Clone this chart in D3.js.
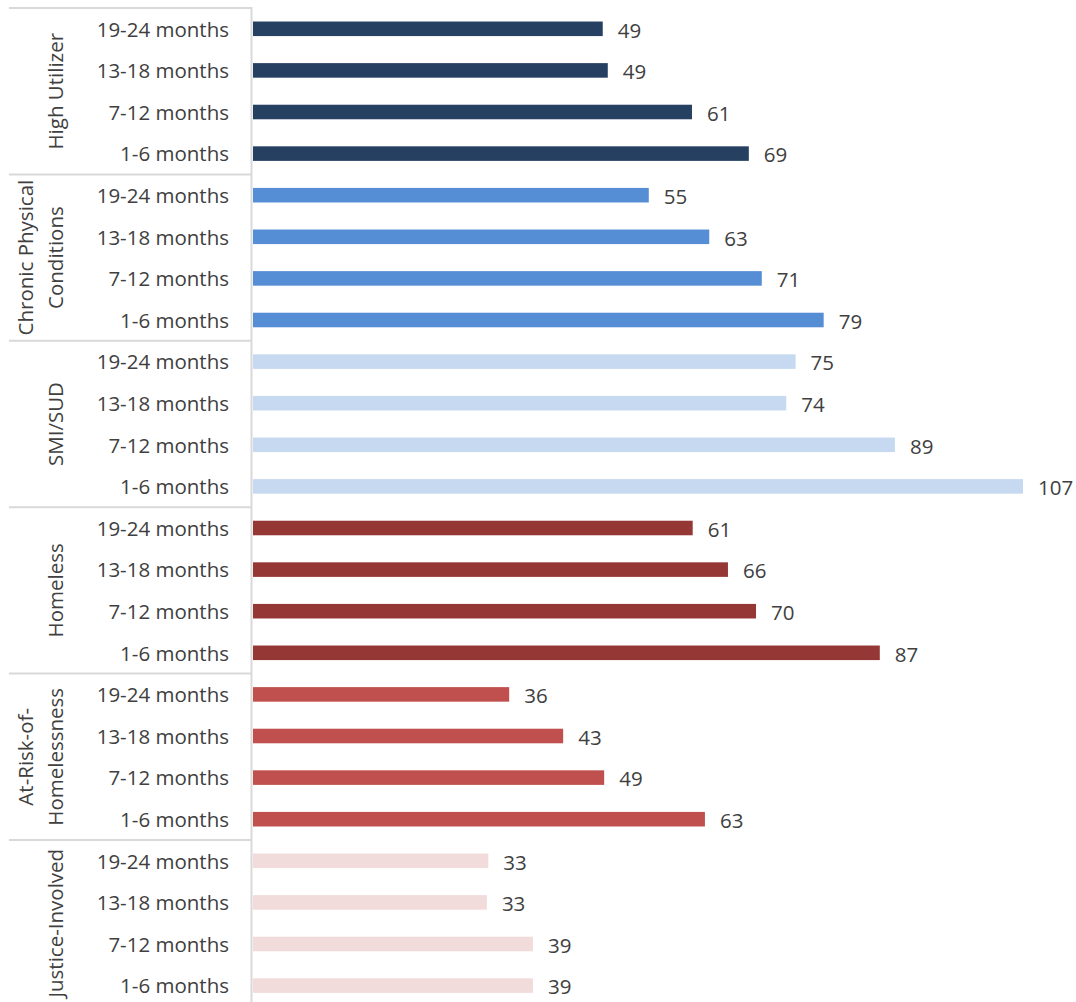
<!DOCTYPE html>
<html>
<head>
<meta charset="utf-8">
<script src="https://cdn.jsdelivr.net/npm/d3@7"></script>
<style>
  html, body { margin: 0; padding: 0; background: #ffffff; }
  svg { display: block; }
  text { font-family: "Open Sans", "Liberation Sans", sans-serif; fill: #404040; }
</style>
</head>
<body>
<svg id="chart" width="1076" height="1002"></svg>
<script>
// ---- data ----
const groups = ["High Utilizer", "Chronic Physical Conditions", "SMI/SUD", "Homeless", "At-Risk-of-Homelessness", "Justice-Involved"];
const groupLabelLines = [["High Utilizer"], ["Chronic Physical", "Conditions"], ["SMI/SUD"], ["Homeless"], ["At-Risk-of-", "Homelessness"], ["Justice-Involved"]];
const periods = ["19-24 months", "13-18 months", "7-12 months", "1-6 months"];
const highUtilizer = [48.6, 49.3, 61.0, 68.9];
const chronicPhysical = [55.0, 63.4, 70.7, 79.3];
const smiSud = [75.4, 74.1, 89.2, 107.0];
const homeless = [61.1, 66.0, 69.9, 87.1];
const atRisk = [35.6, 43.1, 48.8, 62.8];
const justiceInvolved = [32.7, 32.5, 38.9, 38.9];
const groupColors = ["#264061", "#558ED5", "#C6D9F1", "#953735", "#C0504D", "#F2DCDB"];

const seriesByGroup = [highUtilizer, chronicPhysical, smiSud, homeless, atRisk, justiceInvolved];
const rows = [];
groups.forEach((g, gi) => {
  periods.forEach((p, pi) => {
    rows.push({ key: g + "|" + p, group: g, gi: gi, period: p, value: seriesByGroup[gi][pi] });
  });
});

// ---- layout ----
const svg = d3.select("#chart");
const plotLeft = 253, plotTop = 8, step = 41.6;
const plotBottom = plotTop + step * rows.length;
const x = d3.scaleLinear().domain([0, 107]).range([plotLeft, 1023]);
const y = d3.scaleBand().domain(rows.map(d => d.key)).range([plotTop, plotBottom])
  .paddingInner(0.65).paddingOuter(0.325);

const fontSize = 20.5;
const gridColor = "#d9d9d9";

// group separators
const groupEdges = d3.range(groups.length + 1).map(i => plotTop + i * step * periods.length);
svg.append("g").selectAll("line").data(groupEdges).join("line")
  .attr("x1", 9).attr("x2", plotLeft - 1)
  .attr("y1", d => d).attr("y2", d => d)
  .attr("stroke", gridColor).attr("stroke-width", 2);

// bars
svg.append("g").selectAll("rect").data(rows).join("rect")
  .attr("x", x(0))
  .attr("y", d => y(d.key))
  .attr("width", d => x(d.value) - x(0))
  .attr("height", y.bandwidth())
  .attr("fill", d => groupColors[d.gi]);

// axis line (vertical)
svg.append("line")
  .attr("x1", plotLeft - 1.5).attr("x2", plotLeft - 1.5)
  .attr("y1", plotTop - 1).attr("y2", plotBottom)
  .attr("stroke", gridColor).attr("stroke-width", 2);

// value labels
svg.append("g").selectAll("text").data(rows).join("text")
  .attr("x", d => x(d.value) + 15)
  .attr("y", d => y(d.key) + y.bandwidth() / 2 + 1.5)
  .attr("dy", "0.36em")
  .attr("font-size", fontSize)
  .text(d => d3.format(".0f")(d.value));

// category labels
svg.append("g").selectAll("text").data(rows).join("text")
  .attr("x", 229)
  .attr("y", d => y(d.key) + y.bandwidth() / 2 + 0.5)
  .attr("dy", "0.36em")
  .attr("text-anchor", "end")
  .attr("font-size", fontSize)
  .text(d => d.period);

// group labels (rotated)
groups.forEach((g, gi) => {
  const cy = (groupEdges[gi] + groupEdges[gi + 1]) / 2;
  const lines = groupLabelLines[gi];
  lines.forEach((ln, li) => {
    const cx = 56 - (lines.length - 1 - li) * 30;
    svg.append("text")
      .attr("transform", `translate(${cx},${cy}) rotate(-90)`)
      .attr("text-anchor", "middle")
      .attr("dy", "0.36em")
      .attr("font-size", fontSize)
      .text(ln);
  });
});
</script>
</body>
</html>
